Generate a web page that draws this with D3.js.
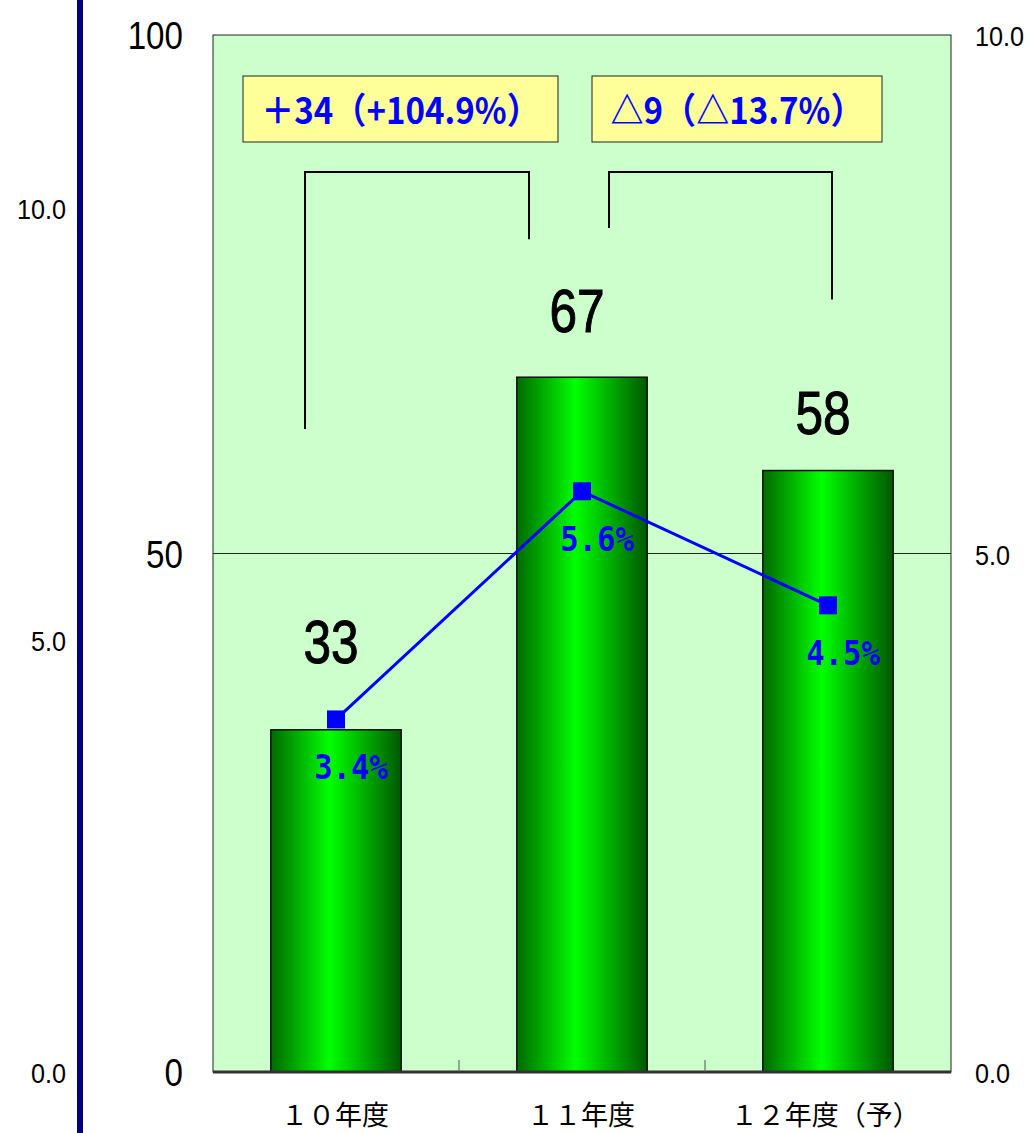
<!DOCTYPE html>
<html>
<head>
<meta charset="utf-8">
<script src="https://cdn.jsdelivr.net/npm/d3@7"></script>
<style>
  body { margin: 0; background: #fff; }
  svg { display: block; }
</style>
</head>
<body>
<div id="chart"></div>
<script>
var categories = ['１０年度', '１１年度', '１２年度（予）'];
var barValues = [33, 67, 58];
var rateValues = [3.4, 5.6, 4.5];
var rateLabels = ['3.4%', '5.6%', '4.5%'];
var leftTicks = [0, 50, 100];
var rightTicks = [0, 5, 10];
var outerTicks = [0, 5, 10];
var changeLabels = ['＋34（+104.9%）', '△9（△13.7%）'];

var W = 1030, H = 1133;
var plot = { left: 213, right: 951, top: 35, bottom: 1072 };
// how far each bar label sits above its bar (the first one dodges the marker)
var labelLift = [67, 45, 37];

var svg = d3.select('#chart').append('svg')
  .attr('width', W)
  .attr('height', H);

var defs = svg.append('defs');
var grad = defs.append('linearGradient')
  .attr('id', 'barGrad')
  .attr('x1', '0%').attr('x2', '100%')
  .attr('y1', '0%').attr('y2', '0%');
grad.append('stop').attr('offset', '0%').attr('stop-color', '#006a00');
grad.append('stop').attr('offset', '45%').attr('stop-color', '#00ff00');
grad.append('stop').attr('offset', '100%').attr('stop-color', '#005800');

var x = d3.scaleBand()
  .domain(categories)
  .range([plot.left, plot.right])
  .paddingInner(0.47)
  .paddingOuter(0.235);
var xBound = d3.scaleBand()
  .domain(categories)
  .range([plot.left, plot.right]);
var y = d3.scaleLinear().domain([0, 100]).range([plot.bottom, plot.top]);
var yRate = d3.scaleLinear().domain([0, 10]).range([plot.bottom, plot.top]);
var yOuter = d3.scaleLinear().domain([0, 12]).range([plot.bottom, plot.top]);

function cx(d) { return x(d) + x.bandwidth() / 2; }

// navy line on the far left
svg.append('line')
  .attr('x1', 80).attr('x2', 80)
  .attr('y1', 0).attr('y2', H)
  .attr('stroke', '#000080')
  .attr('stroke-width', 6);

// plot background
svg.append('rect')
  .attr('x', plot.left).attr('y', plot.top)
  .attr('width', plot.right - plot.left)
  .attr('height', plot.bottom - plot.top)
  .attr('fill', '#ccffcc')
  .attr('stroke', '#222')
  .attr('stroke-width', 1);

// gridline at 50
svg.append('line')
  .attr('x1', plot.left).attr('x2', plot.right)
  .attr('y1', y(50)).attr('y2', y(50))
  .attr('stroke', '#222')
  .attr('stroke-width', 1);

// bars
svg.selectAll('rect.bar')
  .data(barValues)
  .enter()
  .append('rect')
  .attr('class', 'bar')
  .attr('x', function(d, i) { return x(categories[i]); })
  .attr('y', function(d) { return y(d); })
  .attr('width', x.bandwidth())
  .attr('height', function(d) { return plot.bottom - y(d); })
  .attr('fill', 'url(#barGrad)')
  .attr('stroke', '#111')
  .attr('stroke-width', 1.5);

// bottom axis
var xAxis = svg.append('g')
  .attr('transform', 'translate(0,' + plot.bottom + ')');
xAxis.append('line')
  .attr('x1', plot.left).attr('x2', plot.right)
  .attr('stroke', '#333')
  .attr('stroke-width', 3);
xAxis.selectAll('line.tick')
  .data(categories.slice(1))
  .enter()
  .append('line')
  .attr('class', 'tick')
  .attr('x1', function(d) { return xBound(d); })
  .attr('x2', function(d) { return xBound(d); })
  .attr('y1', 0).attr('y2', -12)
  .attr('stroke', '#555')
  .attr('stroke-width', 1);
xAxis.selectAll('text')
  .data(categories)
  .enter()
  .append('text')
  .attr('x', function(d) { return d.length > 4 ? x(d) - 32 : cx(d) - 55; })
  .attr('y', 53)
  .attr('font-family', '"Noto Sans CJK JP"')
  .attr('font-size', 27)
  .attr('fill', '#000')
  .text(function(d) { return d; });

// left axis (0-100)
svg.selectAll('text.left')
  .data(leftTicks)
  .enter()
  .append('text')
  .attr('class', 'left')
  .attr('transform', function(d) { return 'translate(183,' + (y(d) + 14) + ') scale(0.85,1)'; })
  .attr('text-anchor', 'end')
  .attr('font-family', 'Liberation Sans, Arial')
  .attr('font-size', 39)
  .text(function(d) { return d; });

// outer left axis (rate)
svg.selectAll('text.outer')
  .data(outerTicks)
  .enter()
  .append('text')
  .attr('class', 'outer')
  .attr('transform', function(d) { return 'translate(66,' + (yOuter(d) + 11) + ') scale(0.9,1)'; })
  .attr('text-anchor', 'end')
  .attr('font-family', 'Liberation Sans, Arial')
  .attr('font-size', 28)
  .text(function(d) { return d.toFixed(1); });

// right axis (rate)
svg.selectAll('text.right')
  .data(rightTicks)
  .enter()
  .append('text')
  .attr('class', 'right')
  .attr('transform', function(d) { return 'translate(975,' + (yRate(d) + 11) + ') scale(0.9,1)'; })
  .attr('text-anchor', 'start')
  .attr('font-family', 'Liberation Sans, Arial')
  .attr('font-size', 28)
  .text(function(d) { return d.toFixed(1); });

// bar value labels
svg.selectAll('text.val')
  .data(barValues)
  .enter()
  .append('text')
  .attr('class', 'val')
  .attr('transform', function(d, i) {
    return 'translate(' + (cx(categories[i]) - 5) + ',' + (y(d) - labelLift[i]) + ') scale(0.8,1)';
  })
  .attr('text-anchor', 'middle')
  .attr('font-family', 'Liberation Sans, Arial')
  .attr('font-size', 62)
  .attr('stroke', '#000')
  .attr('stroke-width', 1)
  .text(function(d) { return d; });

// rate line
var line = d3.line()
  .x(function(d, i) { return cx(categories[i]); })
  .y(function(d) { return yRate(d); });
svg.append('path')
  .datum(rateValues)
  .attr('d', line)
  .attr('fill', 'none')
  .attr('stroke', '#0000ff')
  .attr('stroke-width', 3);
svg.selectAll('rect.mark')
  .data(rateValues)
  .enter()
  .append('rect')
  .attr('class', 'mark')
  .attr('x', function(d, i) { return cx(categories[i]) - 9; })
  .attr('y', function(d) { return yRate(d) - 9; })
  .attr('width', 18)
  .attr('height', 18)
  .attr('fill', '#0000ff');
svg.selectAll('text.rate')
  .data(rateValues)
  .enter()
  .append('text')
  .attr('class', 'rate')
  .attr('transform', function(d, i) {
    return 'translate(' + (cx(categories[i]) + 15) + ',' + (yRate(d) + 60) + ') scale(0.9,1)';
  })
  .attr('text-anchor', 'middle')
  .attr('font-family', 'DejaVu Sans Mono')
  .attr('font-weight', 'bold')
  .attr('font-size', 34)
  .attr('fill', '#0000ff')
  .text(function(d, i) { return rateLabels[i]; });

// change annotations: boxes and brackets
var boxes = [
  { x0: 243, x1: 558 },
  { x0: 592, x1: 882 }
];
boxes.forEach(function(b, i) {
  svg.append('rect')
    .attr('x', b.x0).attr('y', 76)
    .attr('width', b.x1 - b.x0).attr('height', 66)
    .attr('fill', '#ffff99')
    .attr('stroke', '#222')
    .attr('stroke-width', 1);
  svg.append('text')
    .attr('transform', 'translate(' + ((b.x0 + b.x1) / 2) + ',124) scale(0.92,1)')
    .attr('text-anchor', 'middle')
    .attr('font-family', '"Noto Sans CJK JP"')
    .attr('font-weight', 'bold')
    .attr('font-size', 36)
    .attr('fill', '#0000ff')
    .text(changeLabels[i]);
});

var brackets = [
  { a: 0, b: 1, ya: 62, yb: 80.3, dx0: -31, dx1: -53 },
  { a: 1, b: 2, ya: 81.4, yb: 74.5, dx0: 27, dx1: 4 }
];
var topY = y(86.8);
brackets.forEach(function(br) {
  var xa = cx(categories[br.a]) + br.dx0;
  var xb = cx(categories[br.b]) + br.dx1;
  svg.append('path')
    .attr('d', 'M' + xa + ',' + y(br.ya) + 'V' + topY + 'H' + xb + 'V' + y(br.yb))
    .attr('fill', 'none')
    .attr('stroke', '#000')
    .attr('stroke-width', 2);
});
</script>
</body>
</html>
